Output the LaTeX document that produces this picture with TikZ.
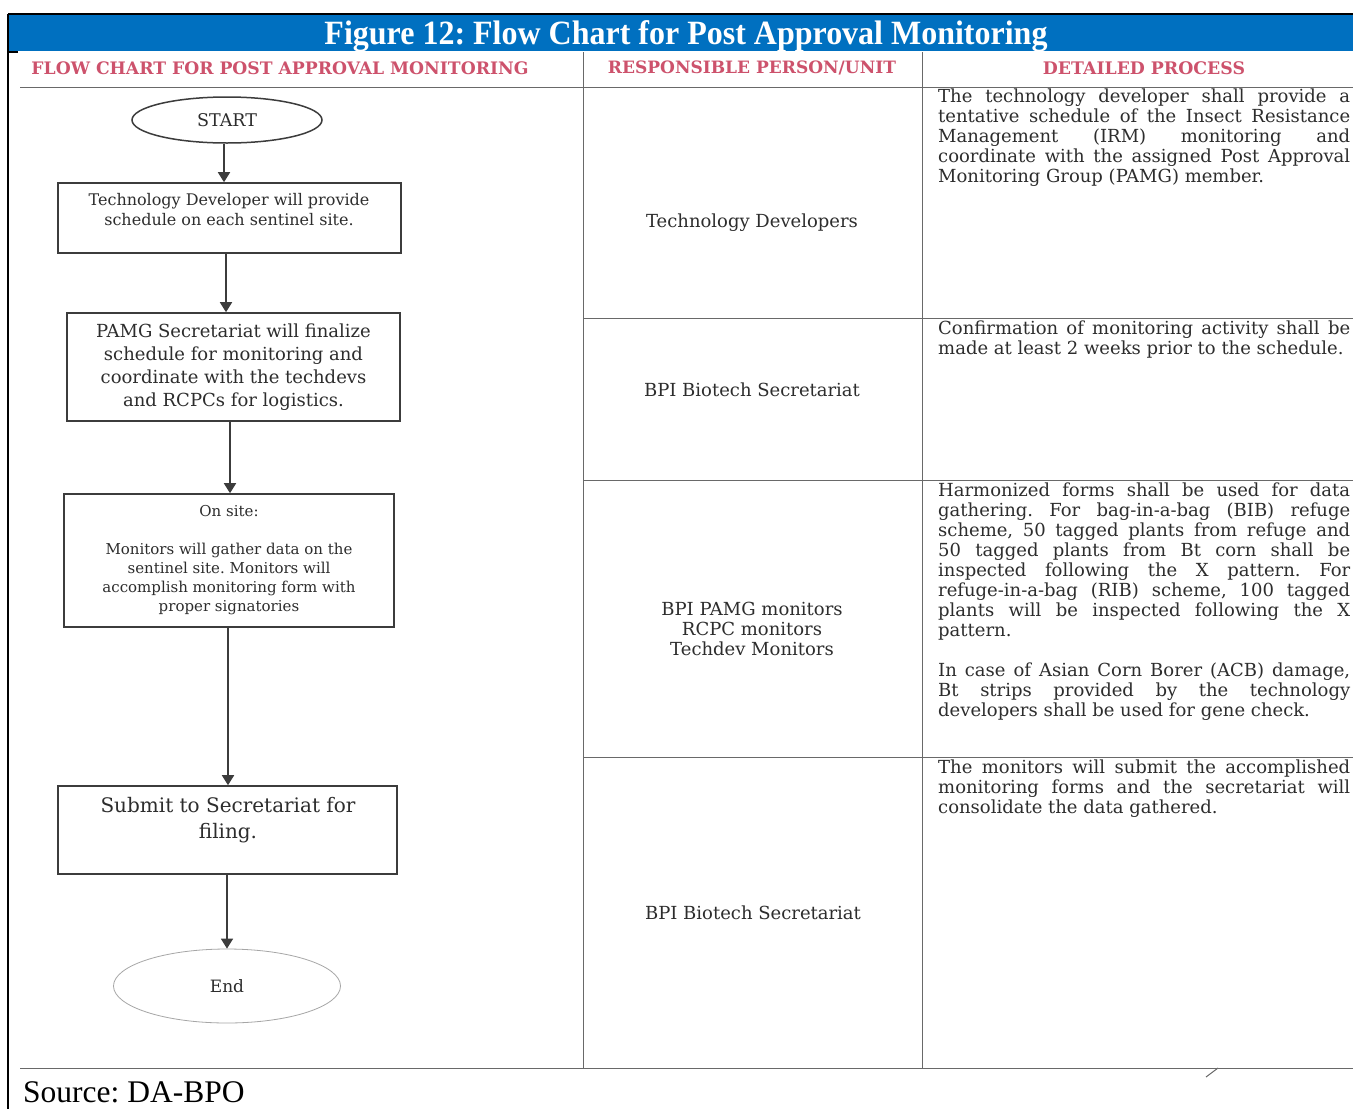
\documentclass[tikz,border=0pt]{standalone}
\usepackage{fontspec}
\usepackage{graphicx}
\setmainfont{DejaVu Serif}
\newfontfamily\lsfont{Liberation Serif}
\usetikzlibrary{arrows.meta,shapes.geometric}
\definecolor{hdrblue}{RGB}{0,112,192}
\definecolor{pinkred}{RGB}{205,82,108}
\definecolor{ink}{RGB}{45,45,45}
\definecolor{rulec}{RGB}{105,105,105}
\definecolor{boxc}{RGB}{60,60,60}
\frenchspacing
\newcommand{\bodypara}[1]{\parbox[t]{412pt}{\fontsize{18}{20}\selectfont\parindent0pt\tolerance=10000\hbadness=10000\frenchspacing #1}}
\tikzset{
  fbox/.style={draw=boxc, line width=1.6pt, inner sep=0pt, text=ink, align=center},
  ellip/.style={ellipse, inner sep=0pt, text=ink},
  arr/.style={draw=boxc, line width=1.8pt, -{Triangle[length=10pt,width=12pt]}},
  gridline/.style={draw=rulec, line width=1pt},
  lbl/.style={inner sep=0pt, text=ink, align=center},
  hdr/.style={inner sep=0pt, text=pinkred, font=\bfseries},
  para/.style={inner sep=0pt, text=ink, anchor=north west}
}
\begin{document}
\begin{tikzpicture}[x=1pt,y=-1pt]
\useasboundingbox (0,0) rectangle (1353,1109);
\fill[white] (0,0) rectangle (1353,1109);
% title band
\fill[hdrblue] (9,15) rectangle (1353,51);
\draw[black, line width=1.6pt] (8,14) -- (1353,14);
\draw[black, line width=1.6pt] (8,14) -- (8,1109);
\draw[black, line width=1.2pt] (8,52) -- (18,52);
\node[inner sep=0pt, text=white] (title) at (686,36) {\resizebox{723pt}{\height}{\lsfont\fontsize{34}{34}\selectfont\bfseries Figure 12: Flow Chart for Post Approval Monitoring}};
% table rules
\draw[gridline] (20,87) -- (1353,87);
\draw[gridline] (20,1068) -- (1353,1068);
\draw[gridline] (583,52) -- (583,1068);
\draw[gridline] (922,52) -- (922,1068);
\draw[gridline] (583,318) -- (1353,318);
\draw[gridline] (583,480) -- (1353,480);
\draw[gridline] (583,757) -- (1353,757);
\draw[gridline] (1206,1077) -- (1218,1068);
% headers
\node[hdr] (h1) at (280,68) {\resizebox{497pt}{!}{FLOW CHART FOR POST APPROVAL MONITORING}};
\node[hdr] (h2) at (752,68) {\resizebox{288pt}{!}{RESPONSIBLE PERSON/UNIT}};
\node[hdr] (h3) at (1144,68) {\resizebox{202pt}{!}{DETAILED PROCESS}};
% flowchart
\node[ellip, draw=boxc, line width=1.5pt, minimum width=190pt, minimum height=46pt, font=\fontsize{17.5}{20}\selectfont] (start) at (227,120) {START};
\node[fbox, minimum width=343pt, minimum height=70pt] (b1) at (229.5,218) {};
\node[lbl, font=\fontsize{16}{20}\selectfont] (b1t) at (229,210) {Technology Developer will provide\\schedule on each sentinel site.};
\node[fbox, minimum width=333pt, minimum height=108pt, font=\fontsize{18}{23}\selectfont] (b2) at (233.5,367) {PAMG Secretariat will finalize\\schedule for monitoring and\\coordinate with the techdevs\\and RCPCs for logistics.};
\node[fbox, minimum width=330pt, minimum height=133pt, font=\fontsize{15}{19}\selectfont] (b3) at (229,560.5) {On site:\\[19pt]Monitors will gather data on the\\sentinel site. Monitors will\\accomplish monitoring form with\\proper signatories};
\node[fbox, minimum width=339pt, minimum height=88pt] (b4) at (227.5,830) {};
\node[lbl, font=\fontsize{20}{26}\selectfont] (b4t) at (228,820) {Submit to Secretariat for\\filing.};
\node[ellip, draw=black!35, line width=0.8pt, minimum width=227pt, minimum height=74pt, font=\fontsize{17}{20}\selectfont] (end) at (227,986) {End};
\draw[arr] (start.south -| 224,0) -- (b1.north -| 224,0);
\draw[arr] (b1.south -| 226,0) -- (b2.north -| 226,0);
\draw[arr] (b2.south -| 230,0) -- (b3.north -| 230,0);
\draw[arr] (b3.south -| 228,0) -- (b4.north -| 228,0);
\draw[arr] (b4.south -| 227,0) -- (end.north -| 227,0);
% responsible column
\node[lbl, font=\fontsize{18}{20}\selectfont] (r1) at (752,223) {Technology Developers};
\node[lbl, font=\fontsize{18}{20}\selectfont] (r2) at (752,390) {BPI Biotech Secretariat};
\node[lbl, font=\fontsize{18}{20}\selectfont] (r3) at (752,629) {BPI PAMG monitors\\RCPC monitors\\Techdev Monitors};
\node[lbl, font=\fontsize{18}{20}\selectfont] (r4) at (753,913) {BPI Biotech Secretariat};
% detailed process column
\node[para] (p1) at (938,89) {\bodypara{The technology developer shall provide a\linebreak tentative schedule of the Insect Resistance\linebreak Management (IRM) monitoring and\linebreak coordinate with the assigned Post Approval\linebreak Monitoring Group (PAMG) member.}};
\node[para] (p2) at (938,321) {\bodypara{Confirmation of monitoring activity shall be\linebreak made at least 2 weeks prior to the schedule.}};
\node[para] (p3) at (938,483) {\bodypara{Harmonized forms shall be used for data\linebreak gathering. For bag-in-a-bag (BIB) refuge\linebreak scheme, 50 tagged plants from refuge and\linebreak 50 tagged plants from Bt corn shall be\linebreak inspected following the X pattern. For\linebreak refuge-in-a-bag (RIB) scheme, 100 tagged\linebreak plants will be inspected following the X\linebreak pattern.\par\vspace{20pt}In case of Asian Corn Borer (ACB) damage,\linebreak Bt strips provided by the technology\linebreak developers shall be used for gene check.}};
\node[para] (p4) at (938,760) {\bodypara{The monitors will submit the accomplished\linebreak monitoring forms and the secretariat will\linebreak consolidate the data gathered.}};
% source
\node[inner sep=0pt, anchor=base west, text=black] (src) at (23,1102) {\lsfont\fontsize{31.5}{32}\selectfont Source: DA-BPO};
\end{tikzpicture}
\end{document}
